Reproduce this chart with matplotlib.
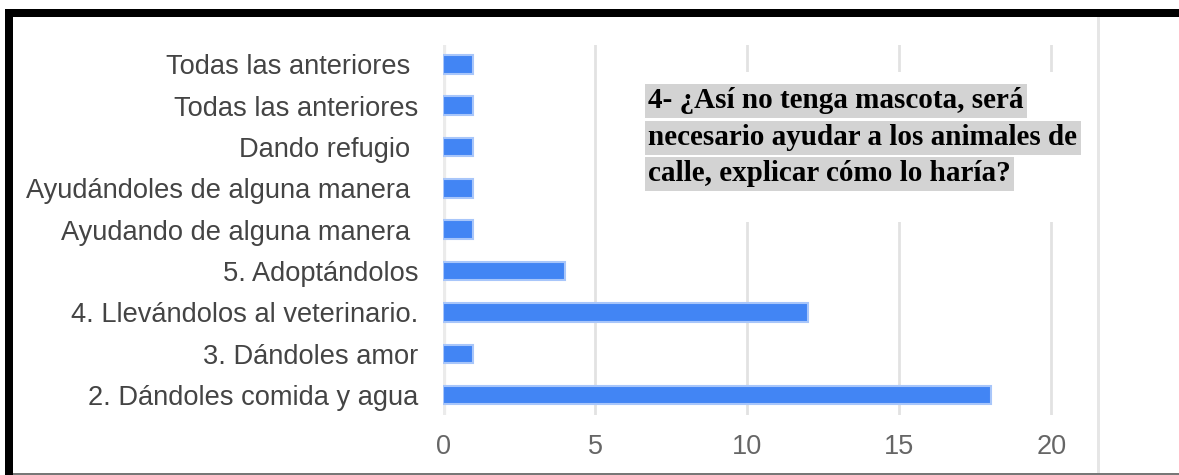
import matplotlib
matplotlib.use("Agg")
import matplotlib.pyplot as plt
from matplotlib.patches import Rectangle

# Data (top to bottom as shown)
categories = [
    "Todas las anteriores ",
    "Todas las anteriores",
    "Dando refugio ",
    "Ayudándoles de alguna manera ",
    "Ayudando de alguna manera ",
    "5. Adoptándolos",
    "4. Llevándolos al veterinario.",
    "3. Dándoles amor",
    "2. Dándoles comida y agua",
]
values = [1, 1, 1, 1, 1, 4, 12, 1, 18]
xticks = [0, 5, 10, 15, 20]
title_lines = [
    "4- ¿Así no tenga mascota, será",
    "necesario ayudar a los animales de",
    "calle, explicar cómo lo haría?",
]

W, H = 1179, 475
fig = plt.figure(figsize=(W / 100, H / 100), dpi=100)
fig.patch.set_facecolor("white")

def fx(px):
    return px / W

def fy(py):
    return 1 - py / H

ax = fig.add_axes([fx(443), fy(415), fx(1097) - fx(443), (415 - 45) / H])
n = len(categories)
ypos = list(range(n - 1, -1, -1))
ax.barh(ypos, values, height=0.45, color="#4285f4", edgecolor="#a8c6fa",
        linewidth=1.5, zorder=3)
ax.set_ylim(-0.48, n - 1 + 0.47)
ax.set_xlim(0, 21.5)
ax.set_yticks(ypos)
ax.set_yticklabels(categories, fontfamily="Liberation Sans", fontsize=19.6,
                   color="#444444")
ax.set_xticks(xticks)
ax.set_xticklabels([str(t) for t in xticks], fontfamily="Liberation Sans",
                   fontsize=19.5, color="#666666")
ax.tick_params(axis="y", length=0, pad=18)
ax.tick_params(axis="x", length=0, pad=14)
for s in ax.spines.values():
    s.set_visible(False)
ax.grid(axis="x", color="#e2e2e2", linewidth=2, zorder=0)
ax.axvline(0, color="#ebebeb", linewidth=4.5, zorder=1)
ax.set_axisbelow(True)

# White area behind the title text
fig.add_artist(Rectangle((fx(625), fy(222)), fx(1090) - fx(625), (222 - 72) / H,
                         transform=fig.transFigure, facecolor="white",
                         edgecolor="none", zorder=2))

centers = [100.5, 137.5, 174]
for line, cy in zip(title_lines, centers):
    fig.text(fx(648), fy(cy), line, fontfamily="Liberation Serif",
             fontweight="bold", fontsize=21, color="black", va="center",
             ha="left", zorder=4,
             bbox=dict(facecolor="#d3d3d3", edgecolor="none",
                       boxstyle="square,pad=0.12"))

# Frame elements
fig.add_artist(Rectangle((fx(5), fy(17)), 1 - fx(5), 8 / H,
                         transform=fig.transFigure, facecolor="black",
                         edgecolor="none", zorder=5))
fig.add_artist(Rectangle((fx(5), 0), 8 / W, fy(9),
                         transform=fig.transFigure, facecolor="black",
                         edgecolor="none", zorder=5))
fig.add_artist(Rectangle((fx(1097), 0), 3 / W, fy(17),
                         transform=fig.transFigure, facecolor="#e6e6e6",
                         edgecolor="none", zorder=5))
fig.add_artist(Rectangle((fx(13), 0), 1 - fx(13), 2 / H,
                         transform=fig.transFigure, facecolor="#777777",
                         edgecolor="none", zorder=5))

fig.savefig("out.png", dpi=100, facecolor="white")
